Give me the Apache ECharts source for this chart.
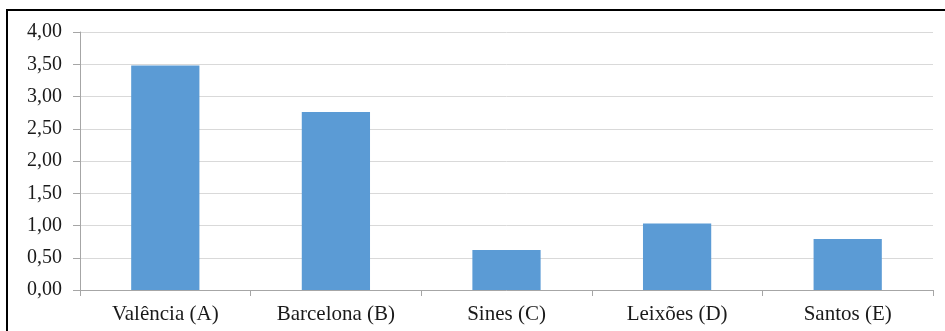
<!DOCTYPE html>
<html>
<head>
<meta charset="utf-8">
<script src="https://cdn.jsdelivr.net/npm/echarts@6/dist/echarts.min.js"></script>
<style>
  html, body { margin: 0; padding: 0; background: #fff; }
  #chart { width: 945px; height: 331px; }
</style>
</head>
<body>
<div id="chart"></div>
<script>
// Ports and their values
const categories = ['Valência (A)', 'Barcelona (B)', 'Sines (C)', 'Leixões (D)', 'Santos (E)'];
const values = [3.48, 2.76, 0.62, 1.03, 0.79];

// Y axis scale
const yMin = 0;
const yMax = 4;
const yStep = 0.5;

const fontFamily = '"Liberation Serif", "Times New Roman", serif';
const chart = echarts.init(document.getElementById('chart'), null, { renderer: 'canvas' });

chart.setOption({
  animation: false,
  backgroundColor: '#ffffff',
  graphic: [{
    type: 'rect',
    silent: true,
    shape: { x: 7, y: 10, width: 1200, height: 600 },
    style: { fill: 'none', stroke: '#000000', lineWidth: 2 }
  }],
  grid: { left: 80, right: 12, top: 32, bottom: 41, containLabel: false },
  xAxis: {
    type: 'category',
    data: categories,
    axisLine: { show: true, lineStyle: { color: '#a6a6a6', width: 1 } },
    axisTick: { show: true, length: 6, alignWithLabel: false, lineStyle: { color: '#a6a6a6' } },
    axisLabel: { color: '#1a1a1a', fontFamily: fontFamily, fontSize: 21, margin: 14 },
    splitLine: { show: false }
  },
  yAxis: {
    type: 'value',
    min: yMin,
    max: yMax,
    interval: yStep,
    axisLine: { show: true, lineStyle: { color: '#a6a6a6', width: 1 } },
    axisTick: { show: true, length: 7, lineStyle: { color: '#a6a6a6' } },
    axisLabel: {
      color: '#1a1a1a', fontFamily: fontFamily, fontSize: 20, margin: 18,
      formatter: v => v.toFixed(2).replace('.', ',')
    },
    splitLine: { show: true, lineStyle: { color: '#d9d9d9', width: 1 } }
  },
  series: [{
    type: 'bar',
    data: values,
    barWidth: '40%',
    itemStyle: { color: '#5b9bd5' }
  }]
});
</script>
</body>
</html>
